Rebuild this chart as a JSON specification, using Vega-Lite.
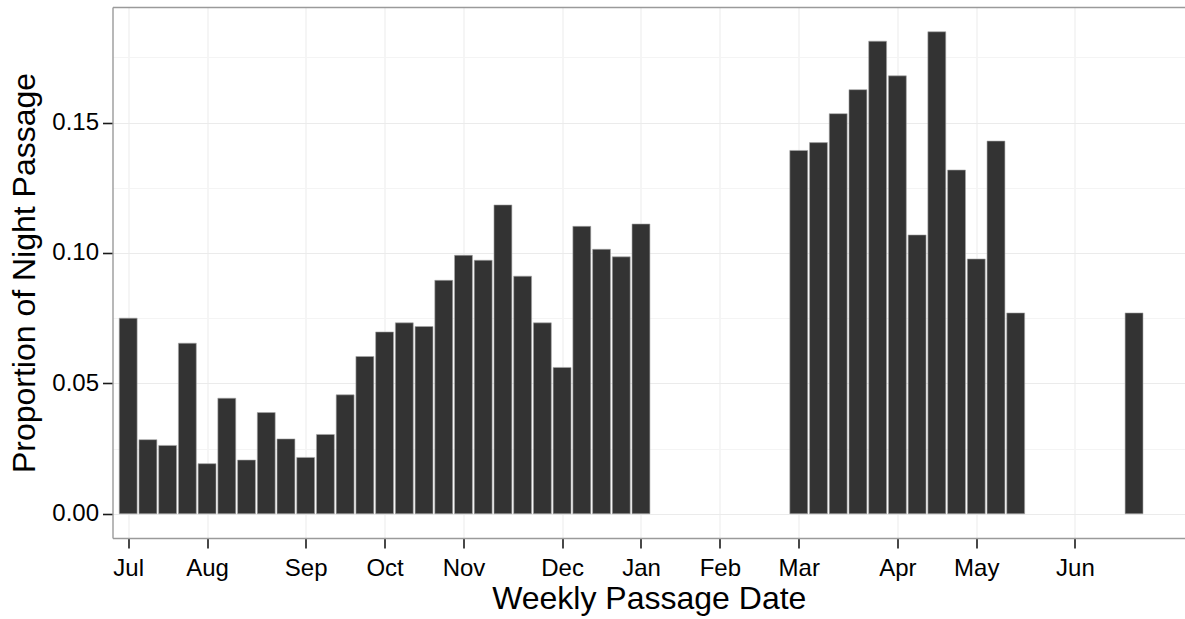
{
  "$schema": "https://vega.github.io/schema/vega-lite/v6.json",
  "width": 1072.5,
  "height": 531,
  "autosize": "none",
  "padding": {"left": 112.5, "top": 7, "right": 0, "bottom": 81},
  "background": "white",
  "config": {
    "view": {"stroke": null},
    "font": "Liberation Sans",
    "axis": {
      "labelFont": "Liberation Sans",
      "titleFont": "Liberation Sans",
      "labelColor": "#000000",
      "titleColor": "#000000",
      "titleFontWeight": "normal",
      "labelFontSize": 24,
      "titleFontSize": 32,
      "domainColor": "#9a9a9a",
      "domainWidth": 1.4,
      "tickColor": "#1a1a1a",
      "tickWidth": 1.6,
      "tickSize": 10,
      "labelFlush": false,
      "labelOverlap": false,
      "labelBound": false
    }
  },
  "data": {
    "values": [
      {"week": 0, "proportion": 0.0750},
      {"week": 1, "proportion": 0.0284},
      {"week": 2, "proportion": 0.0262},
      {"week": 3, "proportion": 0.0654},
      {"week": 4, "proportion": 0.0192},
      {"week": 5, "proportion": 0.0443},
      {"week": 6, "proportion": 0.0206},
      {"week": 7, "proportion": 0.0388},
      {"week": 8, "proportion": 0.0287},
      {"week": 9, "proportion": 0.0216},
      {"week": 10, "proportion": 0.0304},
      {"week": 11, "proportion": 0.0456},
      {"week": 12, "proportion": 0.0603},
      {"week": 13, "proportion": 0.0697},
      {"week": 14, "proportion": 0.0732},
      {"week": 15, "proportion": 0.0718},
      {"week": 16, "proportion": 0.0895},
      {"week": 17, "proportion": 0.0991},
      {"week": 18, "proportion": 0.0972},
      {"week": 19, "proportion": 0.1184},
      {"week": 20, "proportion": 0.0911},
      {"week": 21, "proportion": 0.0732},
      {"week": 22, "proportion": 0.0561},
      {"week": 23, "proportion": 0.1102},
      {"week": 24, "proportion": 0.1014},
      {"week": 25, "proportion": 0.0985},
      {"week": 26, "proportion": 0.1111},
      {"week": 34, "proportion": 0.1393},
      {"week": 35, "proportion": 0.1423},
      {"week": 36, "proportion": 0.1534},
      {"week": 37, "proportion": 0.1626},
      {"week": 38, "proportion": 0.1812},
      {"week": 39, "proportion": 0.1679},
      {"week": 40, "proportion": 0.1069},
      {"week": 41, "proportion": 0.1848},
      {"week": 42, "proportion": 0.1318},
      {"week": 43, "proportion": 0.0977},
      {"week": 44, "proportion": 0.1429},
      {"week": 45, "proportion": 0.0770},
      {"week": 51, "proportion": 0.0770}
    ]
  },
  "layer": [
    {
      "mark": {"type": "bar", "width": 17.9, "fill": "#333333", "stroke": "#a8a8a8", "strokeWidth": 0.6},
      "encoding": {
        "x": {
          "field": "week",
          "type": "quantitative",
          "scale": {"domain": [-0.542, 53.33], "nice": false, "zero": false},
          "axis": {
            "orient": "bottom",
            "title": "Weekly Passage Date",
            "values": [0, 4, 9, 13, 17, 22, 26, 30, 34, 39, 43, 48],
            "labelExpr": "['Jul','Aug','Sep','Oct','Nov','Dec','Jan','Feb','Mar','Apr','May','Jun'][indexof([0,4,9,13,17,22,26,30,34,39,43,48], datum.value)]",
            "labelPadding": 8,
            "titlePadding": 3,
            "grid": true,
            "gridColor": "#ebebeb",
            "gridWidth": 1
          }
        },
        "y": {
          "field": "proportion",
          "type": "quantitative",
          "scale": {"domain": [-0.0093, 0.1943], "nice": false, "zero": false},
          "axis": {
            "title": "Proportion of Night Passage",
            "values": [0, 0.025, 0.05, 0.075, 0.1, 0.125, 0.15, 0.175],
            "labelExpr": "indexof([0, 0.05, 0.1, 0.15], datum.value) >= 0 ? format(datum.value, '.2f') : ''",
            "tickOpacity": {"condition": {"test": "indexof([0, 0.05, 0.1, 0.15], datum.value) >= 0", "value": 1}, "value": 0},
            "gridColor": {"condition": {"test": "indexof([0, 0.05, 0.1, 0.15], datum.value) >= 0", "value": "#ebebeb"}, "value": "#f4f4f4"},
            "grid": true,
            "labelPadding": 4,
            "titlePadding": 10
          }
        }
      }
    },
    {
      "mark": {"type": "point", "opacity": 0},
      "encoding": {
        "x": {
          "field": "week",
          "type": "quantitative",
          "axis": {"orient": "top", "labels": false, "ticks": false, "grid": false, "title": null, "domain": true}
        }
      }
    }
  ],
  "resolve": {"axis": {"x": "independent"}}
}
